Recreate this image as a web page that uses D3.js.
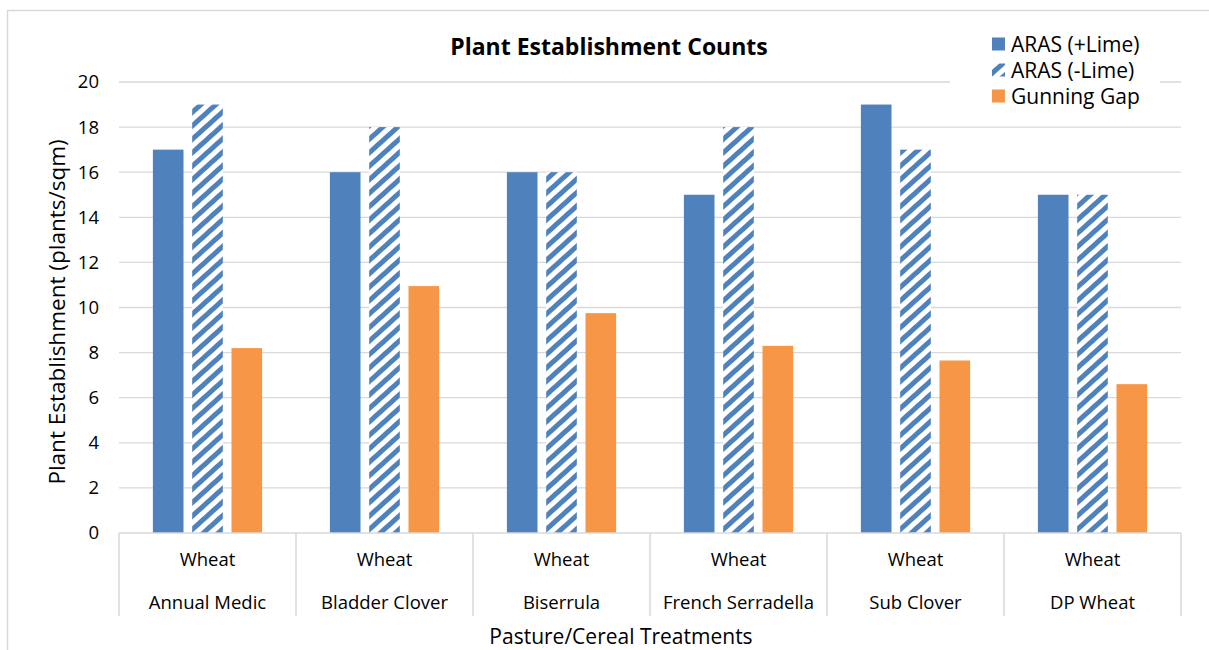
<!DOCTYPE html>
<html>
<head>
<meta charset="utf-8">
<script src="https://cdn.jsdelivr.net/npm/d3@7"></script>
<style>
  html, body { margin: 0; padding: 0; background: #fff; }
  svg { display: block; font-family: "Open Sans", Lato, sans-serif; }
</style>
</head>
<body>
<svg id="chart" width="1209" height="650"></svg>
<script>
// Treatments (outer category level) and the crop grown on each (inner level)
const categories = ["Annual Medic", "Bladder Clover", "Biserrula", "French Serradella", "Sub Clover", "DP Wheat"];
const cropLabels = ["Wheat", "Wheat", "Wheat", "Wheat", "Wheat", "Wheat"];

// Plant establishment (plants/sqm) per site
const seriesNames = ["ARAS (+Lime)", "ARAS (-Lime)", "Gunning Gap"];
const arasLime = [17, 16, 16, 15, 19, 15];
const arasNoLime = [19, 18, 16, 18, 17, 15];
const gunningGap = [8.2, 10.95, 9.75, 8.3, 7.65, 6.6];

const yTicks = [0, 2, 4, 6, 8, 10, 12, 14, 16, 18, 20];

const BLUE = "#4f81bd", ORANGE = "#f79646", GRID = "#d9d9d9", TEXT = "#000";
const FONT = "'Open Sans', Lato, sans-serif";

const svg = d3.select("#chart");

// chart area frame
svg.append("rect").attr("x", 7.5).attr("y", 10.5).attr("width", 1300).attr("height", 800)
  .attr("fill", "#fff").attr("stroke", GRID).attr("stroke-width", 1.5);

// hatch pattern for the unlimed series
const defs = svg.append("defs");
const pat = defs.append("pattern").attr("id", "hatch")
  .attr("patternUnits", "userSpaceOnUse").attr("width", 10).attr("height", 10)
  .attr("patternTransform", "rotate(48)");
pat.append("rect").attr("width", 10).attr("height", 10).attr("fill", "#fff");
pat.append("rect").attr("width", 5).attr("height", 10).attr("fill", BLUE);

const fills = [BLUE, "url(#hatch)", ORANGE];
const values = [arasLime, arasNoLime, gunningGap];

const plot = { left: 119, right: 1181, top: 82, bottom: 533 };

const x = d3.scaleBand().domain(categories).range([plot.left, plot.right]).paddingInner(0).paddingOuter(0);
const xs = d3.scaleBand().domain(seriesNames).range([0, x.bandwidth()]).paddingInner(0.221).paddingOuter(0.862);
const y = d3.scaleLinear().domain([0, 20]).range([plot.bottom, plot.top]);

// gridlines
svg.append("g").selectAll("line").data(yTicks.filter(d => d > 0)).join("line")
  .attr("x1", plot.left).attr("x2", plot.right)
  .attr("y1", d => y(d)).attr("y2", d => y(d))
  .attr("stroke", GRID).attr("stroke-width", 1.3);

// y axis labels
const yAxis = d3.axisLeft(y).tickValues(yTicks).tickSize(0).tickPadding(0);
const yg = svg.append("g").attr("transform", `translate(${99},0)`).call(yAxis);
yg.select(".domain").remove();
yg.selectAll("text").attr("font-size", 18.5).attr("fill", TEXT).attr("font-family", FONT);

// bars
const rows = categories.map((c, i) => ({ c, vals: seriesNames.map((s, k) => ({ s, k, v: values[k][i] })) }));
const groups = svg.append("g").selectAll("g").data(rows).join("g")
  .attr("transform", d => `translate(${x(d.c)},0)`);
groups.selectAll("rect").data(d => d.vals).join("rect")
  .attr("x", d => xs(d.s)).attr("width", xs.bandwidth())
  .attr("y", d => y(d.v)).attr("height", d => y(0) - y(d.v))
  .attr("fill", d => fills[d.k]);

// category axis: baseline + separators
const axisBottom = 616;
svg.append("line").attr("x1", plot.left).attr("x2", plot.right).attr("y1", plot.bottom).attr("y2", plot.bottom)
  .attr("stroke", GRID).attr("stroke-width", 1.5);
const bounds = categories.map(c => x(c)).concat([plot.right]);
svg.append("g").selectAll("line").data(bounds).join("line")
  .attr("x1", d => d).attr("x2", d => d).attr("y1", plot.bottom).attr("y2", axisBottom)
  .attr("stroke", GRID).attr("stroke-width", 1.5);

const labels = svg.append("g").attr("font-size", 18.5).attr("fill", TEXT).attr("text-anchor", "middle");
labels.selectAll("text.crop").data(categories).join("text").attr("class", "crop")
  .attr("x", d => x(d) + x.bandwidth() / 2).attr("y", 566)
  .text((d, i) => cropLabels[i]);
labels.selectAll("text.cat").data(categories).join("text").attr("class", "cat")
  .attr("x", d => x(d) + x.bandwidth() / 2).attr("y", 609)
  .text(d => d);

// axis titles
svg.append("text").attr("x", 621).attr("y", 644).attr("text-anchor", "middle")
  .attr("font-size", 21).attr("fill", TEXT).text("Pasture/Cereal Treatments");
svg.append("text").attr("transform", `translate(65,${312}) rotate(-90)`)
  .attr("text-anchor", "middle").attr("font-size", 22.5).attr("fill", TEXT)
  .text("Plant Establishment (plants/sqm)");

// title
svg.append("text").attr("x", 609).attr("y", 55).attr("text-anchor", "middle")
  .attr("font-size", 23).attr("font-weight", "bold").attr("fill", TEXT)
  .text("Plant Establishment Counts");

// legend
const lg = svg.append("g");
lg.append("rect").attr("x", 950).attr("y", 28).attr("width", 210).attr("height", 84).attr("fill", "#fff");
const items = lg.selectAll("g").data(seriesNames).join("g")
  .attr("transform", (d, i) => `translate(992,${44 + i * 26})`);
items.append("rect").attr("x", 0).attr("y", -6.5).attr("width", 13).attr("height", 13)
  .attr("fill", (d, i) => fills[i]);
items.append("text").attr("x", 19).attr("y", 7.5).attr("font-size", 21).attr("fill", TEXT).text(d => d);
</script>
</body>
</html>
